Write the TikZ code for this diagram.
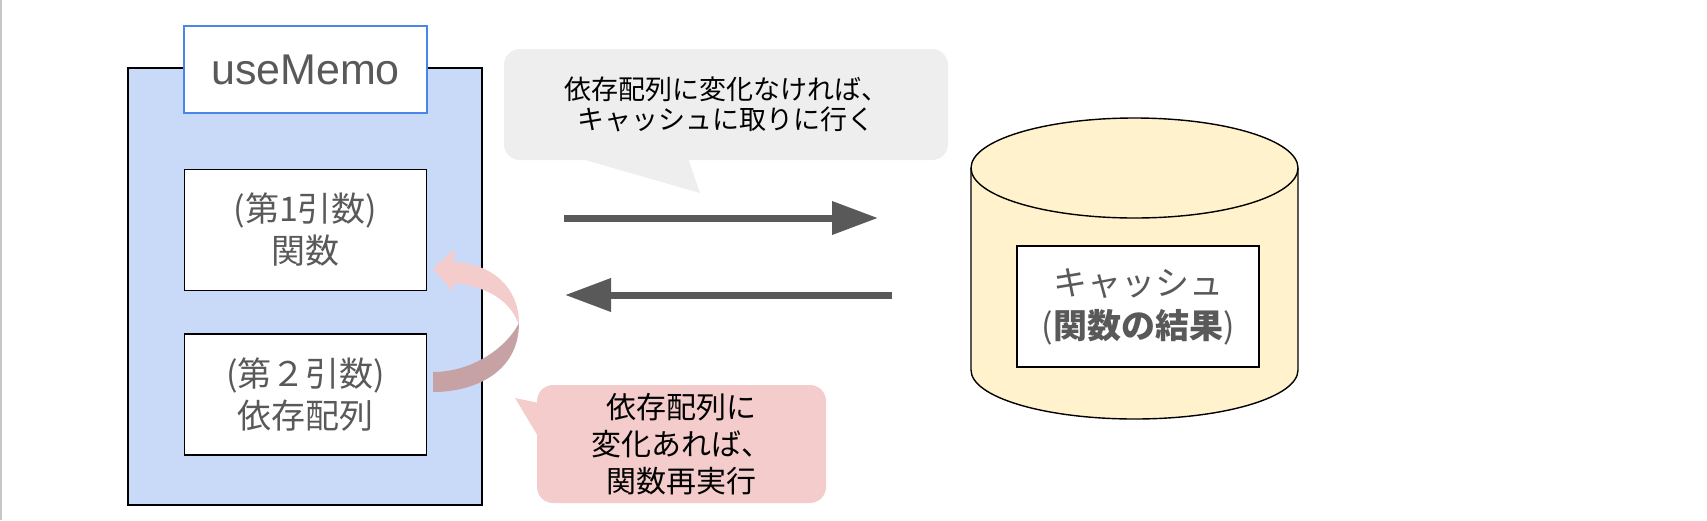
\documentclass[tikz,border=0pt]{standalone}
\usepackage{fontspec}
\setmainfont{Liberation Sans}
\newfontfamily\jp{Noto Sans CJK JP}
\usetikzlibrary{positioning, arrows.meta}

\definecolor{memofill}{HTML}{C9DAF8}
\definecolor{memoline}{HTML}{4A86E8}
\definecolor{textgray}{HTML}{595959}
\definecolor{hitgray}{HTML}{EEEEEE}
\definecolor{rerunpink}{HTML}{F4CCCC}
\definecolor{rerundark}{HTML}{C6A2A4}
\definecolor{cachefill}{HTML}{FFF2CC}

\begin{document}
\begin{tikzpicture}[x=1pt, y=-1pt, font=\jp, >={Triangle[length=46pt,width=32pt]},
  argbox/.style={draw, line width=1.4pt, fill=white, text=textgray, minimum width=242pt, minimum height=121pt, align=center, font=\jp\fontsize{34}{42}\selectfont},
  callout/.style={rounded corners=16pt, align=center, inner sep=0pt},
  flow/.style={->, line width=7pt, draw=textgray}]

\useasboundingbox (0,0) rectangle (1707,520);
\draw[line width=1.5pt, black!22] (1,0) -- (1,520);

% useMemo container
\draw[line width=1.6pt, fill=memofill] (128,68) rectangle (482,505);
\node[draw=memoline, line width=1.4pt, fill=white, text=textgray, minimum width=243pt, minimum height=87pt, font=\fontsize{43}{50}\selectfont] (memo) at (305.5,69.5) {useMemo};

\node[argbox, below=55pt of memo] (func) {(第1引数)\\関数};
\node[argbox, below=42pt of func] (deps) {(第２引数)\\依存配列};

% curved arrow back to the function
\fill[rerundark] (433,392) .. controls (475,392) and (519,372) .. (519,323)
  .. controls (505,350) and (470,372) .. (433,372) -- cycle;
\fill[rerunpink] (519,323) .. controls (519,290) and (495,264) .. (454,262) -- (454,249) -- (433,269) -- (454,292) -- (454,283)
  .. controls (485,286) and (510,300) .. (518,323) -- cycle;

% callouts
\node[callout, fill=hitgray, minimum width=444pt, minimum height=111pt, font=\jp\fontsize{27}{30}\selectfont] (hit) at (726,104.5) {依存配列に変化なければ、\\キャッシュに取りに行く};
\fill[hitgray] (578,158) -- (700,193) -- (688,158) -- cycle;

\node[callout, fill=rerunpink, minimum width=289pt, minimum height=118pt, font=\jp\fontsize{30}{37}\selectfont] (rerun) at (681.5,444) {依存配列に\\変化あれば、\\関数再実行};
\fill[rerunpink] (539,403) -- (515,398) -- (539,438) -- cycle;

% cache
\coordinate (cyltop) at (1134.5,168);
\coordinate (cylbot) at (1134.5,370);
\fill[cachefill] (971,168) rectangle (1298,370);
\fill[cachefill] (cylbot) ellipse [x radius=163.5pt, y radius=49pt];
\draw[line width=1.4pt] (971,168) -- (971,370) arc[start angle=180, end angle=360, x radius=163.5pt, y radius=49pt] -- (1298,168);
\draw[line width=1.4pt, fill=cachefill] (cyltop) ellipse [x radius=163.5pt, y radius=50pt];
\node[argbox, minimum width=242pt, minimum height=121pt, font=\jp\fontsize{34}{43}\selectfont] (cache) at (1138,306.5) {キャッシュ\\(\textbf{関数の結果})};

\coordinate (ask) at (564,218);
\coordinate (ask-end) at (878,218);
\coordinate (back) at (892,295);
\coordinate (back-end) at (565,295);
\draw[flow] (ask) -- (ask-end);
\draw[flow] (back) -- (back-end);

\end{tikzpicture}
\end{document}
